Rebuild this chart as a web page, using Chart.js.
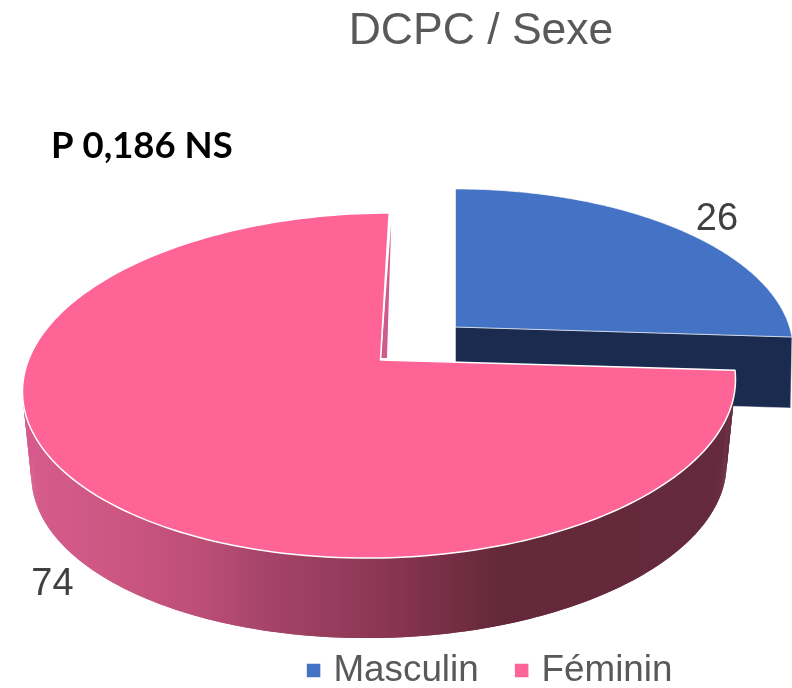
<!DOCTYPE html>
<html><head><meta charset="utf-8">
<style>html,body{margin:0;padding:0;background:#fff}canvas{display:block}</style>
<script src="https://cdn.jsdelivr.net/npm/chart.js@4"></script></head>
<body><canvas id="c" width="792" height="688"></canvas>
<script>
const categories = ['Masculin', 'Féminin'];
const values = [26, 74];
const sliceColors = ['#4472C4', '#FF6497'];
const wallColors = ['#1A2B4F', '#CF5A8C'];
const chartTitle = 'DCPC / Sexe';
const note = 'P 0,186 NS';

// Perspective look of each slice (a tilted disc): top face and bottom face
const looks = [
  {ax:455.5, ay:327, apexDx:0, A:334, B:158, k:0.145, turn:0, shear:0, depth:71, shrink:0.996, lx:40, ly:-9},
  {ax:379, ay:360, apexDx:1.5, A:352.6, B:168.7, k:0.1478, turn:1.9*Math.PI/180, shear:-0.017, depth:85, shrink:0.975, lx:-33, ly:96}
];
const gradStops = [[24,'#D65B8C'],[120,'#CC5682'],[200,'#BC4E76'],[260,'#A7456A'],[400,'#873450'],[500,'#632839'],[735,'#662A3E']];

function project(l,t,scale,dy){
  const a=t+l.turn,c=Math.cos(a),s=Math.sin(a),d=1-l.k*s,X=scale*l.A*c/d,Y=scale*l.B*s/d;
  return [l.ax+X,l.ay+dy+Y+l.shear*X];
}
function topPt(l,t){return project(l,t,1,0);}
function botPt(l,t){return project(l,t,l.shrink,l.depth);}
function poly(ctx,pts){ctx.beginPath();pts.forEach((p,i)=>i?ctx.lineTo(p[0],p[1]):ctx.moveTo(p[0],p[1]));ctx.closePath();}
function topFace(ctx,l,a0,a1){
  const pts=[[l.ax+l.apexDx,l.ay]],n=180;
  for(let i=0;i<=n;i++)pts.push(topPt(l,a0+(a1-a0)*i/n));
  poly(ctx,pts);
}

const pie3d = {
  id:'pie3d',
  afterLayout(chart){
    const t=chart.titleBlock; t.left+=85; t.right+=85; t.top+=5; t.bottom+=5;
    const g=chart.legend; g.left+=96.25; g.right+=96.25; g.top+=11; g.bottom+=11;
  },
  beforeDatasetsDraw(chart){
    const ctx=chart.ctx, arcs=chart.getDatasetMeta(0).data;
    ctx.save();
    ctx.lineJoin='round';
    // Masculin: cut wall then top face
    const lb=looks[0], ab=arcs[0];
    ctx.fillStyle=wallColors[0];
    poly(ctx,[[lb.ax,lb.ay],topPt(lb,ab.endAngle),botPt(lb,ab.endAngle),[lb.ax,lb.ay+lb.depth]]);
    ctx.fill();
    ctx.strokeStyle='rgba(255,255,255,.45)';ctx.lineWidth=1;ctx.stroke();
    topFace(ctx,lb,ab.startAngle,ab.endAngle);
    ctx.fillStyle=sliceColors[0];ctx.fill();
    ctx.strokeStyle='rgba(255,255,255,.6)';ctx.lineWidth=1;ctx.stroke();

    // Féminin: thin inner wall, outer wall, top face
    const lp=looks[1], ap=arcs[1];
    const corner=topPt(lp,ap.endAngle), apexX=lp.ax+lp.apexDx;
    ctx.fillStyle=wallColors[1];
    poly(ctx,[[corner[0]+2,corner[1]+10],[apexX+6.5,lp.ay-2],[apexX+0.5,lp.ay-2]]);
    ctx.fill();
    const x0=gradStops[0][0],x1=gradStops[gradStops.length-1][0];
    const grad=ctx.createLinearGradient(x0,0,x1,0);
    gradStops.forEach(s=>grad.addColorStop((s[0]-x0)/(x1-x0),s[1]));
    ctx.fillStyle=grad;
    const step=Math.PI/360, wallEnd=Math.PI*1.1;
    for(let t=ap.startAngle;t<wallEnd;t+=step){
      const t2=t+step*2;
      poly(ctx,[topPt(lp,t),topPt(lp,t2),botPt(lp,t2),botPt(lp,t)]);
      ctx.fill();
    }
    topFace(ctx,lp,ap.startAngle,ap.endAngle);
    ctx.fillStyle=sliceColors[1];ctx.fill();
    ctx.strokeStyle='#FFFFFF';ctx.lineWidth=1.5;ctx.stroke();

    // value labels and note
    ctx.fillStyle='#404040';ctx.font='38px "Liberation Sans"';ctx.textAlign='center';ctx.textBaseline='middle';
    arcs.forEach((a,i)=>{
      const m=(a.startAngle+a.endAngle)/2,p=topPt(looks[i],m);
      ctx.fillText(String(values[i]),p[0]+looks[i].lx,p[1]+looks[i].ly);
    });
    ctx.fillStyle='#000';ctx.font='bold 36.5px Lato';ctx.textAlign='left';ctx.textBaseline='alphabetic';
    ctx.fillText(note,51,158);
    ctx.restore();
    return false;
  }
};

new Chart(document.getElementById('c'),{
  type:'pie',
  data:{labels:categories,datasets:[{data:values,backgroundColor:sliceColors,borderWidth:0}]},
  plugins:[pie3d],
  options:{
    responsive:false,animation:false,
    layout:{padding:0},
    plugins:{
      tooltip:{enabled:false},
      title:{display:true,text:chartTitle,color:'#595959',padding:0,font:{family:'"Liberation Sans"',size:44.5,weight:'normal'}},
      legend:{position:'bottom',labels:{color:'#595959',font:{family:'"Liberation Sans"',size:36.8},usePointStyle:true,pointStyle:'rect',boxWidth:3,boxHeight:13.5,padding:41.5}}
    }
  }
});
</script></body></html>
